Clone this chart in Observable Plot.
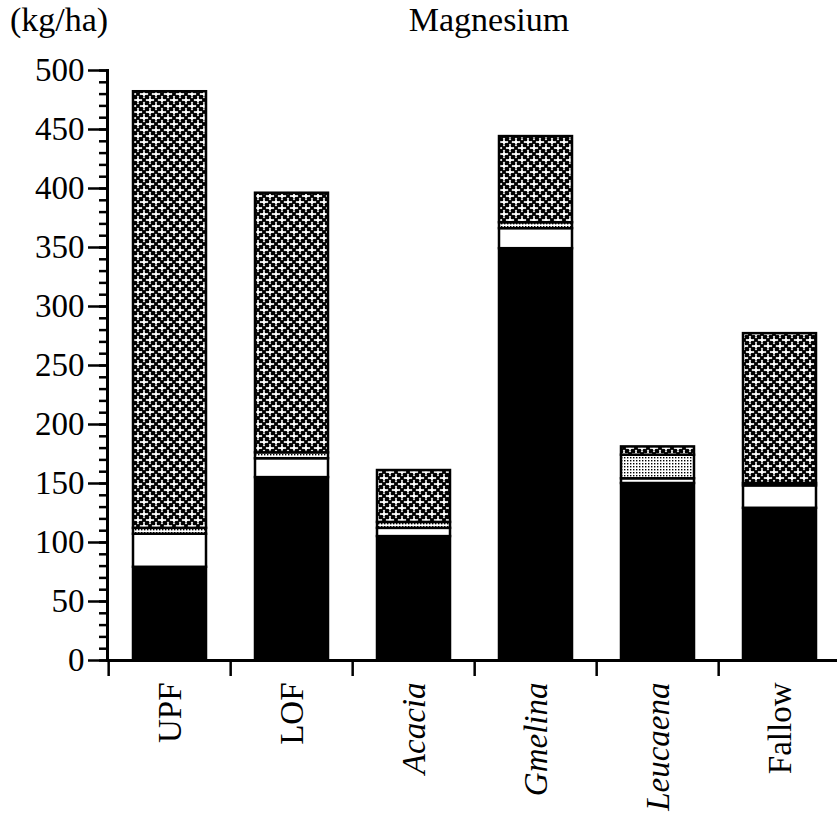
<!DOCTYPE html>
<html>
<head>
<meta charset="utf-8">
<script src="https://cdn.jsdelivr.net/npm/d3@7"></script>
<script src="https://cdn.jsdelivr.net/npm/@observablehq/plot@0.6"></script>
<style>
  html, body { margin: 0; padding: 0; background: #fff; overflow: hidden; }
  #head { position: relative; height: 40px; font-family: "Liberation Serif", "Times New Roman", Times, "DejaVu Serif", serif; font-size: 34px; line-height: 1; color: #000; }
  #head span { position: absolute; top: 3px; white-space: nowrap; }
  #unit { left: 10px; }
  #title { left: 489px; transform: translateX(-50%); }
  svg { display: block; }
</style>
</head>
<body>
<div id="head"><span id="unit">(kg/ha)</span><span id="title">Magnesium</span></div>
<div id="chart"></div>
<script>
// Data (kg/ha)
const sites = ["UPF", "LOF", "Acacia", "Gmelina", "Leucaena", "Fallow"];
const italicSites = ["Acacia", "Gmelina", "Leucaena"];
const components = ["solid", "open", "stippled", "crosshatched"];
const solidValues = [79, 155, 105, 349, 150, 129];
const openValues = [28, 16, 7, 17, 4, 19];
const stippledValues = [5, 5, 5, 5, 20, 2];
const crosshatchedValues = [370, 220, 44, 73, 7, 127];
const yTicks = [0, 50, 100, 150, 200, 250, 300, 350, 400, 450, 500];

const seriesByComponent = {
  solid: solidValues,
  open: openValues,
  stippled: stippledValues,
  crosshatched: crosshatchedValues
};
const fillByComponent = {
  solid: "black",
  open: "white",
  stippled: "url(#stipple)",
  crosshatched: "url(#hatch)"
};

const table = [];
sites.forEach((s, i) => {
  components.forEach(c => table.push({site: s, comp: c, value: seriesByComponent[c][i], fill: fillByComponent[c]}));
});

const W = 837, H = 775;
const mL = 107, mR = -6, mT = 30, mB = 155;
const halfStep = (W - mL - mR) / sites.length / 2;
const font = "'Liberation Serif', 'Times New Roman', Times, 'DejaVu Serif', serif";

const chart = Plot.plot({
  width: W,
  height: H,
  marginLeft: mL,
  marginRight: mR,
  marginTop: mT,
  marginBottom: mB,
  style: {fontFamily: font, color: "black", background: "white", overflow: "visible"},
  x: {domain: sites, paddingInner: 0.40, paddingOuter: 0.20, axis: null},
  y: {domain: [0, 500], axis: null},
  color: {type: "identity"},
  marks: [
    Plot.barY(table, {x: "site", y: "value", fill: "fill", stroke: "black", strokeWidth: 2.5}),
    Plot.axisY({ticks: d3.range(0, 501, 10), tickSize: 8, text: null, strokeWidth: 2.5, label: null}),
    Plot.axisY({ticks: yTicks, tickSize: 19, tickPadding: 4, fontSize: 33, strokeWidth: 2.5, label: null}),
    Plot.frame({anchor: "left", strokeWidth: 3}),
    Plot.frame({anchor: "bottom", strokeWidth: 3}),
    Plot.axisX({tickSize: 16, text: null, dx: -halfStep, strokeWidth: 2.5, label: null}),
    Plot.text(sites, {x: d => d, filter: d => !italicSites.includes(d), frameAnchor: "bottom", dy: 22,
      rotate: -90, textAnchor: "end", lineAnchor: "middle", fontSize: 33, fill: "black"}),
    Plot.text(sites, {x: d => d, filter: d => italicSites.includes(d), frameAnchor: "bottom", dy: 22,
      rotate: -90, textAnchor: "end", lineAnchor: "middle", fontSize: 33, fontStyle: "italic", fill: "black"})
  ]
});

// fill patterns
const svg = d3.select(chart);
const defs = svg.insert("defs", ":first-child");
const hatch = defs.append("pattern").attr("id", "hatch").attr("patternUnits", "userSpaceOnUse")
  .attr("width", 12).attr("height", 12);
hatch.append("rect").attr("width", 12).attr("height", 12).attr("fill", "white");
hatch.append("path").attr("d", "M-1,-1L13,13M13,-1L-1,13").attr("stroke", "black").attr("stroke-width", 2.2);
[[3.85, 2.15], [2.15, 3.85], [8.15, 2.15], [9.85, 3.85], [2.15, 8.15], [3.85, 9.85], [9.85, 8.15], [8.15, 9.85]]
  .forEach(([cx, cy]) => hatch.append("circle").attr("cx", cx).attr("cy", cy).attr("r", 1.5).attr("fill", "black"));
const stip = defs.append("pattern").attr("id", "stipple").attr("patternUnits", "userSpaceOnUse")
  .attr("width", 3).attr("height", 3);
stip.append("rect").attr("width", 3).attr("height", 3).attr("fill", "white");
stip.append("rect").attr("width", 1.4).attr("height", 1.4).attr("fill", "black");

document.getElementById("chart").appendChild(chart);
</script>
</body>
</html>
